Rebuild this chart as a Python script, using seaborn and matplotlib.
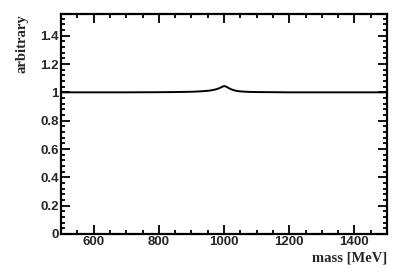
import matplotlib
matplotlib.use("Agg")
import matplotlib.pyplot as plt
from matplotlib.ticker import MultipleLocator, FuncFormatter, FixedLocator
import seaborn as sns
import pandas as pd

# Data
mass = [500, 600, 700, 800, 850, 900, 920, 940, 955, 965, 975, 983, 990, 995, 1000,
        1005, 1010, 1017, 1025, 1035, 1045, 1060, 1080, 1100, 1150, 1200, 1300, 1400, 1500]
value = [1.0, 1.0, 1.0, 1.001, 1.002, 1.004, 1.006, 1.009, 1.012, 1.016, 1.021, 1.027,
         1.034, 1.040, 1.044, 1.042, 1.036, 1.027, 1.019, 1.012, 1.008, 1.005, 1.003,
         1.002, 1.001, 1.0, 1.0, 1.0, 1.0]

df = pd.DataFrame({"mass": mass, "value": value})

sns.set_theme(style="white")
plt.rcParams["font.family"] = ["Liberation Sans", "DejaVu Sans"]

fig = plt.figure(figsize=(4.07, 2.76), dpi=100)
ax = fig.add_axes([61 / 407, 1 - 234 / 276, (387 - 61) / 407, (234 - 14) / 276])

sns.lineplot(data=df, x="mass", y="value", ax=ax, color="black", linewidth=1.4)

ax.xaxis.set_major_locator(MultipleLocator(200))
ax.xaxis.set_minor_locator(MultipleLocator(50))
ax.yaxis.set_major_locator(FixedLocator([0, 0.2, 0.4, 0.6, 0.8, 1.0, 1.2, 1.4]))
ax.yaxis.set_minor_locator(MultipleLocator(0.04))

def yfmt(v, pos):
    s = f"{v:.1f}"
    if s.endswith(".0"):
        s = s[:-2]
    return s

ax.yaxis.set_major_formatter(FuncFormatter(yfmt))
ax.xaxis.set_major_formatter(FuncFormatter(lambda v, p: f"{int(round(v))}"))

ax.set_xlim(500, 1500)
ax.set_ylim(0, 1.553)

ax.tick_params(which="both", direction="in", top=True, right=True,
               bottom=True, left=True, color="black", width=1.3)
ax.tick_params(which="major", length=6.5, labelsize=9.5, pad=1.5)
ax.tick_params(which="minor", length=3.2)
for lab in ax.get_xticklabels() + ax.get_yticklabels():
    lab.set_fontweight("bold")

for sp in ax.spines.values():
    sp.set_visible(True)
    sp.set_color("black")
    sp.set_linewidth(1.6)

ax.set_xlabel("")
ax.set_ylabel("")
fig.text(387 / 407, 1 - 258 / 276, "mass [MeV]", ha="right", va="center",
         fontsize=10.5, fontweight="bold", family=["Liberation Serif", "DejaVu Serif"])
fig.text(22 / 407, 1 - 14 / 276, "arbitrary", ha="center", va="top", rotation=90,
         fontsize=10.5, fontweight="bold", family=["Liberation Serif", "DejaVu Serif"])

fig.savefig("out.png", dpi=100, facecolor="white")
